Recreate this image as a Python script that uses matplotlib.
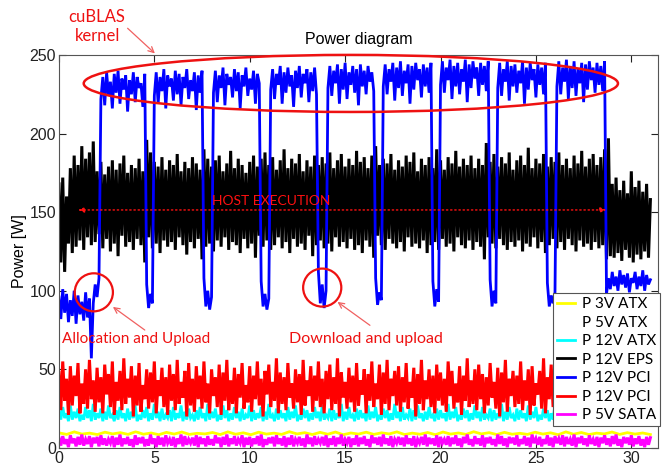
import matplotlib
matplotlib.use("Agg")
import matplotlib.pyplot as plt
from matplotlib.patches import Ellipse
import numpy as np

p3v_atx = [9.6, 8.6, 10.2, 8.8, 9.4, 8.5, 10.0, 8.9, 9.7, 8.6, 10.3, 8.7, 9.5, 8.4, 9.9, 8.8, 10.1, 8.6, 9.3, 8.9,
           9.8, 8.5, 10.2, 8.7, 9.6, 8.4, 10.0, 8.8, 9.4, 8.6, 10.3, 8.9, 9.7, 8.5, 9.9, 8.7, 10.1, 8.4, 9.5, 8.8,
           10.0, 8.6, 9.6, 8.9, 10.2, 8.5, 9.4, 8.7, 9.8, 8.4, 10.1, 8.8, 9.5, 8.6, 10.3, 8.9, 9.7, 8.5, 9.9, 8.7,
           9.3, 8.6, 10.0, 8.8, 9.6, 8.4, 10.2, 8.7, 9.8, 8.5, 9.4, 8.9, 10.1, 8.6, 9.7, 8.8, 9.5, 8.5]

p5v_atx = [13, 14, 12, 13, 15, 12, 14, 13, 12, 14, 13, 15, 12, 13, 14, 13]

p12v_atx = [24, 18, 26, 19, 22, 17, 27, 18, 23, 19, 25, 17, 21, 18, 26, 19, 24, 17, 28, 18,
            22, 19, 25, 17, 23, 18, 27, 19, 21, 17, 24, 18, 26, 19, 22, 17, 25, 18, 23, 19,
            27, 17, 21, 18, 24, 19, 26, 17, 22, 18, 28, 19, 23, 17, 25, 18, 21, 19, 24, 17,
            26, 18, 22, 19, 27, 17, 23, 18, 25, 19, 21, 17, 24, 18, 26, 19, 22, 17, 28, 18,
            23, 19, 25, 17, 21, 18, 27, 19, 24, 17, 22, 18, 26, 19, 23, 17, 25, 18, 21, 19,
            27, 17, 24, 18, 22, 19, 26, 17, 23, 18, 28, 19, 21, 17, 25, 18, 24, 19, 22, 17,
            26, 18, 23, 19, 27, 17, 21, 18, 25, 19, 24, 17, 22, 18, 26, 19, 23, 17, 27, 18,
            21, 19, 25, 17, 24, 18, 22, 19, 28, 17, 23, 18, 26, 19, 21, 17, 25, 18, 24, 19,
            22, 17, 27, 18, 23, 19, 26, 17, 21, 18, 25, 19, 24, 17, 22, 18, 28, 19, 23, 17,
            26, 18, 21, 19, 25, 17, 24, 18, 27, 19, 22, 17, 23, 18, 26, 19, 21, 17, 25, 18,
            24, 19, 22, 17, 28, 18, 23, 19, 26, 17, 21, 18, 25, 19, 24, 17, 22, 18, 27, 19,
            23, 17, 26, 18, 21, 19, 25, 17, 24, 18, 22, 19, 28, 17, 23, 18, 26, 19, 21, 17,
            25, 18, 24, 19, 22, 17, 27, 18, 23, 19, 26, 17, 21, 18, 25, 19, 24, 17, 22, 18,
            28, 19, 23, 17, 26, 18, 21, 19, 25, 17, 24, 18, 22, 19, 27, 17, 23, 18, 26, 19,
            21, 17, 25, 18, 24, 19, 22, 17, 28, 18, 23, 19, 26, 17, 21, 18, 25, 19, 24, 17,
            22, 18, 27, 19, 23, 17, 26, 18, 21, 19, 25]

p12v_eps = [168, 118, 172, 112, 160, 130, 178, 124, 186, 128, 180, 132, 192, 126, 184, 134, 188, 129, 195, 131,
            176, 136, 182, 127, 174, 133, 179, 125, 183, 130, 177, 122, 181, 135, 186, 128, 175, 131, 180, 126,
            178, 133, 184, 129, 176, 118, 196, 134, 188, 127, 182, 130, 179, 124, 185, 132, 177, 128, 183, 131,
            180, 126, 187, 134, 176, 129, 182, 123, 178, 131, 185, 127, 181, 133, 177, 120, 190, 128, 184, 130,
            179, 125, 183, 132, 186, 128, 176, 134, 181, 126, 189, 131, 178, 129, 184, 124, 180, 133, 175, 127,
            182, 130, 186, 121, 179, 135, 184, 128, 188, 132, 180, 126, 185, 129, 177, 134, 183, 127, 190, 131,
            178, 124, 184, 133, 181, 128, 187, 130, 176, 126, 183, 135, 179, 122, 186, 129, 180, 132, 185, 127,
            181, 130, 188, 125, 178, 134, 183, 128, 187, 131, 179, 127, 184, 133, 180, 126, 189, 129, 182, 124,
            185, 132, 178, 128, 186, 121, 192, 135, 180, 129, 184, 126, 181, 133, 187, 130, 177, 127, 183, 131,
            179, 125, 186, 134, 182, 128, 188, 130, 176, 127, 184, 132, 180, 124, 185, 129, 178, 131, 190, 126,
            183, 133, 177, 128, 185, 130, 181, 125, 189, 134, 179, 129, 184, 127, 180, 132, 186, 126, 178, 131,
            184, 128, 180, 120, 194, 134, 182, 130, 187, 127, 179, 133, 185, 129, 181, 126, 188, 131, 177, 128,
            183, 132, 186, 125, 180, 130, 191, 128, 178, 134, 184, 127, 181, 131, 187, 124, 179, 129, 185, 133,
            182, 127, 188, 131, 180, 126, 184, 133, 178, 129, 186, 125, 181, 132, 189, 128, 179, 130, 184, 126,
            187, 131, 180, 127, 185, 129, 190, 120, 197, 122, 168, 121, 172, 124, 164, 119, 170, 126, 162, 121,
            176, 118, 166, 123, 170, 120, 163, 125, 168, 121, 158]

p12v_pci_gpu = [96, 82, 101, 86, 98, 80, 94, 84, 100, 79, 97, 85, 93, 81, 99, 83, 95,
                57,
                92, 104, 96, 108,
                222, 236, 218, 239, 224, 233, 216, 238, 226, 240, 219, 235, 228, 237, 214, 234, 225, 239, 220, 236, 229, 232, 217, 238,
                104, 89, 98, 92,
                224, 239, 219, 236, 227, 241, 216, 237, 230, 235, 221, 240, 225, 238, 218, 236, 229, 241, 222, 234, 227, 239, 215, 237, 226, 240,
                108, 90, 100, 88, 96,
                226, 240, 220, 237, 229, 242, 218, 238, 231, 236, 223, 241, 227, 239, 216, 237, 230, 242, 224, 235, 228, 240, 219, 238, 232,
                106, 90, 98, 88, 95,
                228, 241, 222, 238, 231, 243, 219, 239, 226, 242, 230, 237, 217, 240, 229, 243, 223, 238, 232, 241, 220, 239, 227, 242, 225,
                112, 92, 104, 89, 100,
                229, 243, 224, 240, 232, 244, 219, 241, 228, 245, 222, 239, 231, 243, 226, 241, 218, 244, 230, 240, 225, 243, 233, 239, 227,
                108, 91, 99, 94,
                230, 244, 225, 241, 233, 245, 221, 242, 229, 246, 224, 240, 232, 244, 219, 243, 228, 245, 234, 241, 223, 244, 230, 242, 226, 245,
                106, 90, 101, 93,
                231, 246, 226, 242, 234, 247, 222, 243, 230, 245, 225, 241, 233, 247, 220, 244, 229, 246, 235, 242, 224, 245, 231, 243, 227, 246,
                107, 90, 100, 92,
                229, 245, 224, 241, 233, 246, 221, 243, 230, 244, 226, 240, 232, 246, 219, 242, 228, 245, 234, 241, 223, 244, 231, 242, 225, 245,
                105, 90, 97, 92, 99,
                230, 246, 225, 242, 233, 247, 222, 243, 229, 246, 224, 241, 232, 245, 220, 244, 228, 246, 234, 242, 226, 245, 231, 243, 227, 246,
                98, 108, 101, 112, 103, 109, 100, 113, 104, 110, 102, 111, 99, 108, 105, 112, 101, 109, 103, 113, 100, 110, 104, 107]

p12v_pci = [48, 24, 55, 30, 44, 21, 52, 27, 46, 33, 54, 22, 41, 28, 50, 25, 56, 31, 43, 23,
            51, 29, 45, 22, 53, 34, 47, 26, 55, 21, 42, 30, 49, 24, 57, 28, 44, 32, 52, 20,
            46, 27, 54, 23, 40, 31, 50, 25, 48, 29, 55, 22, 43, 33, 51, 26, 45, 21, 53, 30,
            47, 24, 56, 28, 42, 32, 49, 20, 54, 27, 44, 23, 52, 31, 46, 25, 55, 29, 41, 22,
            50, 33, 45, 26, 53, 21, 48, 30, 56, 24, 43, 28, 51, 22, 47, 32, 54, 25, 40, 29,
            52, 23, 46, 31, 55, 27, 44, 20, 49, 34, 53, 26, 42, 30, 57, 22, 48, 28, 45, 24,
            54, 32, 41, 25, 50, 29, 47, 21, 56, 27, 43, 33, 52, 23, 46, 30, 55, 26, 44, 22,
            49, 31, 53, 24, 45, 28, 57, 20, 48, 32, 42, 25, 51, 29, 46, 23, 54, 27, 43, 34,
            50, 22, 47, 30, 55, 26, 41, 31, 53, 21, 48, 28, 56, 24, 44, 33, 49, 27, 52, 23,
            45, 29, 54, 25, 42, 32, 51, 20, 47, 28, 56, 24, 43, 31, 50, 26, 46, 22, 53, 30,
            48, 27, 44, 23, 55, 33, 49, 25, 41, 29, 52, 21, 46, 30, 57, 26, 43, 28, 50, 24,
            53, 31, 47, 22, 45, 27, 54, 32, 42, 25, 51, 20, 48, 29, 56, 23, 44, 33, 49, 26,
            46, 28, 55, 24, 43, 30, 50, 21, 52, 27, 41, 34, 49, 25, 57, 22, 45, 31, 53, 26,
            47, 23, 54, 29, 44, 32, 51, 20, 46, 27, 55, 24, 42, 30, 50, 25, 48, 33, 52, 22,
            45, 28, 56, 26, 43, 31, 49, 21, 54, 29, 47, 24, 51, 32, 44, 27, 55, 23, 48, 30,
            52, 25, 46, 22, 54, 28, 43, 31, 50, 24, 47]

p5v_sata = [6.5, 1.5, 7.5, 2.5, 5.5, 0.5, 8, 3, 6, 1, 7, 2, 8.5, 1.5, 5.5, 2.5, 7.5, 0.5, 6.5, 3,
            7, 1, 8, 2, 6, 1.5, 5.5, 3, 7.5, 0.5, 6.5, 2, 8.5, 1, 6, 2.5, 7, 1.5, 5.5, 0.5,
            8, 2, 6.5, 3, 7, 1, 5.5, 1.5, 8.5, 2.5, 6, 0.5, 7.5, 2, 6.5, 1, 8, 3, 5.5, 1.5,
            7, 0.5, 6, 2.5, 8.5, 1, 7.5, 2, 5.5, 3, 6.5, 1.5, 8, 0.5, 7, 2.5, 6, 1, 7.5, 2,
            5.5, 1.5, 8, 3, 6.5, 0.5, 7, 2, 8.5, 1, 6, 2.5, 7.5, 1.5, 5.5, 3, 8, 0.5, 6.5, 2,
            7, 1, 6, 2.5, 7.5, 1.5, 8.5, 0.5, 5.5, 2, 6.5, 3, 7, 1, 8, 2.5, 6, 1.5, 7.5, 0.5,
            6.5, 2, 8, 1, 5.5, 3, 7, 1.5, 6, 0.5, 8.5, 2.5, 6.5, 1, 7.5, 2, 5.5, 3, 7, 1.5,
            8, 0.5, 6, 2, 7.5, 1, 6.5, 2.5, 8.5, 1.5, 5.5, 3, 7, 0.5, 6, 2, 8, 1, 6.5, 2.5,
            7.5, 1.5, 5.5, 0.5, 8, 3, 6.5, 2, 7, 1, 8.5, 2.5, 6, 1.5, 7.5, 0.5, 5.5, 3, 7, 2,
            6.5, 1, 8, 2.5, 6, 1.5, 7.5, 0.5, 5.5, 3, 7, 2, 8.5, 1, 6.5, 2.5, 6, 1.5, 8, 0.5,
            7, 3, 5.5, 2, 7.5, 1, 6.5, 2.5, 8, 1.5, 6, 0.5, 7, 3, 8.5, 2, 5.5, 1, 7.5, 2.5,
            6, 1.5, 8, 0.5, 6.5, 3, 7, 2, 5.5, 1, 8.5, 2.5, 7.5, 1.5, 6, 0.5, 7, 3, 6.5, 2,
            8, 1, 5.5, 2.5, 7.5, 1.5, 6.5, 0.5, 8.5, 3, 6, 2, 7, 1, 5.5, 2.5, 8, 1.5, 6.5, 0.5,
            7.5, 3, 6, 2, 8, 1, 7, 2.5, 5.5, 1.5, 8.5, 0.5, 6.5, 3, 7.5, 2, 6, 1, 8, 2.5,
            5.5, 1.5, 7, 0.5, 6.5, 3, 8, 2, 6, 1, 7.5, 2.5, 8.5, 1.5, 5.5, 0.5, 7, 3, 6.5, 2,
            8, 1, 6, 2.5, 7.5, 1.5, 5.5, 0.5, 7, 2, 6.5]

series = [
    ("P 3V ATX", p3v_atx, "#ffff00", 2.0),
    ("P 5V ATX", p5v_atx, "#ffffff", 2.0),
    ("P 12V ATX", p12v_atx, "#00ffff", 2.0),
    ("P 12V EPS", p12v_eps, "#000000", 2.2),
    ("P 12V PCI", p12v_pci_gpu, "#0000ff", 2.0),
    ("P 12V PCI", p12v_pci, "#ff0000", 2.2),
    ("P 5V SATA", p5v_sata, "#ff00ff", 2.2),
]

t_end = 31.0
red = "#ee1111"
arrow_red = "#f06060"

fig = plt.figure(figsize=(6.62, 4.70), dpi=100)
ax = fig.add_axes([0.089, 0.047, 0.905, 0.836])

for name, vals, col, lw in series:
    t = np.linspace(0, t_end, len(vals))
    ax.plot(t, vals, color=col, lw=lw, label=name, solid_joinstyle="miter")

ax.set_xlim(0, 31.4)
ax.set_ylim(0, 250)
ax.set_xticks([0, 5, 10, 15, 20, 25, 30])
ax.set_yticks([0, 50, 100, 150, 200, 250])
ax.tick_params(direction="in", top=True, right=True, length=5, labelsize=11.5, colors="#222222", pad=2)
for s in ax.spines.values():
    s.set_color("#555555")
    s.set_linewidth(0.8)
for lab in ax.get_xticklabels() + ax.get_yticklabels():
    lab.set_family("Liberation Sans")

ax.set_title("Power diagram", fontsize=11.5, family="Liberation Sans", pad=8)
ax.set_ylabel("Power [W]", fontsize=11.5, family="Liberation Sans", labelpad=2)

leg = ax.legend(loc="lower right", bbox_to_anchor=(1.003, 0.055), fancybox=False,
                edgecolor="#555555", framealpha=1, handlelength=1.2,
                borderpad=0.25, labelspacing=0.3, handletextpad=0.45, borderaxespad=0,
                prop={"family": "Lato", "size": 11})
leg.get_frame().set_linewidth(0.8)
for h in leg.legend_handles:
    h.set_linewidth(2.0)

# аннотации
ax.add_patch(Ellipse((15.3, 231.9), 28.0, 36.3, fill=False, ec=red, lw=1.8, clip_on=False, zorder=5))
ax.add_patch(Ellipse((1.83, 99), 2.0, 24.2, fill=False, ec=red, lw=1.6, zorder=5))
ax.add_patch(Ellipse((13.8, 102), 2.0, 24.2, fill=False, ec=red, lw=1.6, zorder=5))

ax.text(2.0, 268, "cuBLAS\nkernel", ha="center", va="center", color=red, family="Lato",
        fontsize=12, linespacing=1.2, clip_on=False)
ax.annotate("", xy=(5.03, 251), xytext=(3.6, 267), annotation_clip=False,
            arrowprops=dict(arrowstyle="->", color=arrow_red, lw=0.9, shrinkA=0, shrinkB=0))

ax.text(4.03, 69.3, "Allocation and Upload", ha="center", va="center", color=red, family="Lato", fontsize=11)
ax.annotate("", xy=(2.83, 89.7), xytext=(4.5, 75),
            arrowprops=dict(arrowstyle="->", color=arrow_red, lw=0.9, shrinkA=0, shrinkB=0))

ax.text(16.07, 69.3, "Download and upload", ha="center", va="center", color=red, family="Lato", fontsize=11.5)
ax.annotate("", xy=(14.6, 92.9), xytext=(16.3, 78),
            arrowprops=dict(arrowstyle="->", color=arrow_red, lw=0.9, shrinkA=0, shrinkB=0))

ax.text(11.1, 157, "HOST EXECUTION", ha="center", va="center", zorder=6, color="#ff1010",
        family="Lato", fontsize=10)
ax.annotate("", xy=(28.7, 151.4), xytext=(1.0, 151.4),
            arrowprops=dict(arrowstyle="<|-|>,head_length=0.35,head_width=0.15", color="#ff1010",
                            lw=1.0, linestyle=(0, (1, 2)), shrinkA=0, shrinkB=0), zorder=6)

fig.savefig("out.png", dpi=100)
